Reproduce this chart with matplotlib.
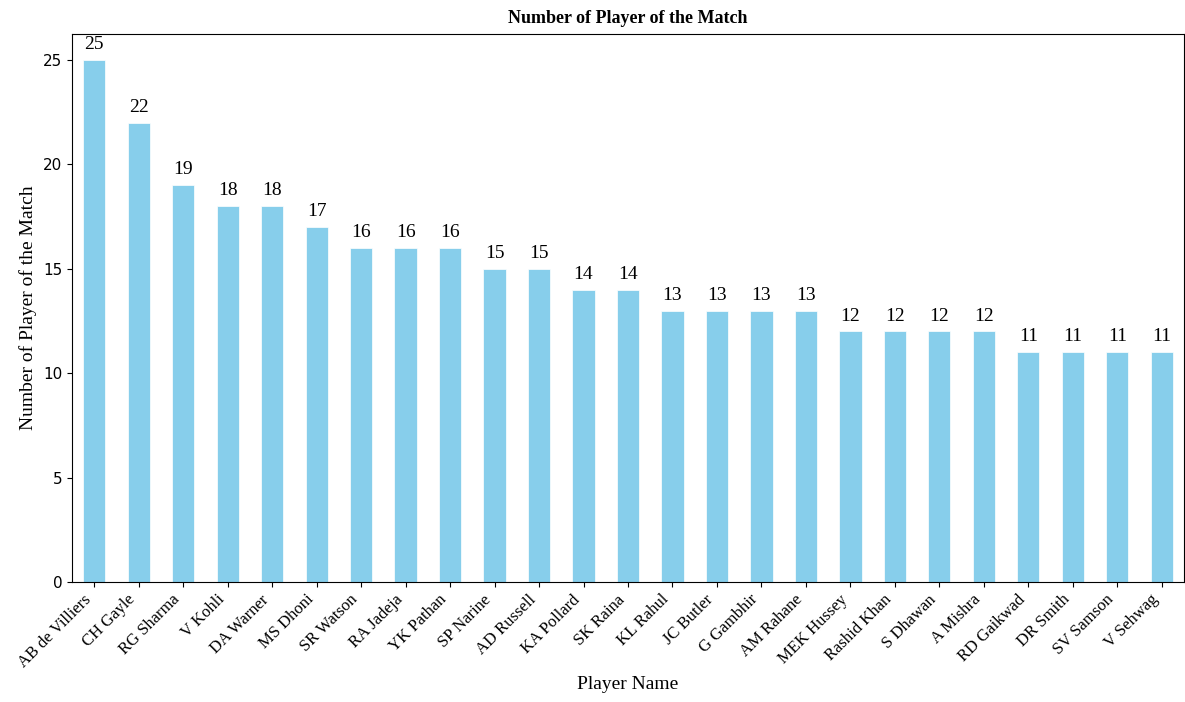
import numpy as np
import matplotlib.pyplot as plt

players = ['AB de Villiers', 'CH Gayle', 'RG Sharma', 'V Kohli', 'DA Warner', 'MS Dhoni',
           'SR Watson', 'RA Jadeja', 'YK Pathan', 'SP Narine', 'AD Russell', 'KA Pollard',
           'SK Raina', 'KL Rahul', 'JC Butler', 'G Gambhir', 'AM Rahane', 'MEK Hussey',
           'Rashid Khan', 'S Dhawan', 'A Mishra', 'RD Gaikwad', 'DR Smith', 'SV Samson', 'V Sehwag']
awards = [25, 22, 19, 18, 18, 17, 16, 16, 16, 15, 15, 14, 14, 13, 13, 13, 13, 12, 12, 12, 12, 11, 11, 11, 11]

serif = ['Liberation Serif', 'DejaVu Serif']

fig = plt.figure(figsize=(11.85, 7.02), dpi=100)
ax = fig.add_axes([72/1185, 120/702, 1112/1185, 548/702])

x = np.arange(len(players))
bars = ax.bar(x, awards, width=0.5, color='skyblue', edgecolor='white', linewidth=0.5)
ax.set_xlim(-0.5, len(players) - 0.5)
ax.set_ylim(0, max(awards) * 1.05)

for b, v in zip(bars, awards):
    ax.annotate(str(v), (b.get_x() + b.get_width() / 2, v), xytext=(0, 5),
                textcoords='offset points', ha='center', va='bottom',
                fontsize=14, family=serif)

ax.set_xticks(x)
ax.set_xticklabels(players, rotation=45, ha='right', fontsize=12, family=serif)
ax.tick_params(axis='y', labelsize=11)
ax.set_xlabel('Player Name', fontsize=14, family=serif)
ax.set_ylabel('Number of Player of the Match', fontsize=14, family=serif)
ax.set_title('Number of Player of the Match', fontsize=13, fontweight='bold', family=serif, pad=8)

fig.savefig('out.png', dpi=100)
